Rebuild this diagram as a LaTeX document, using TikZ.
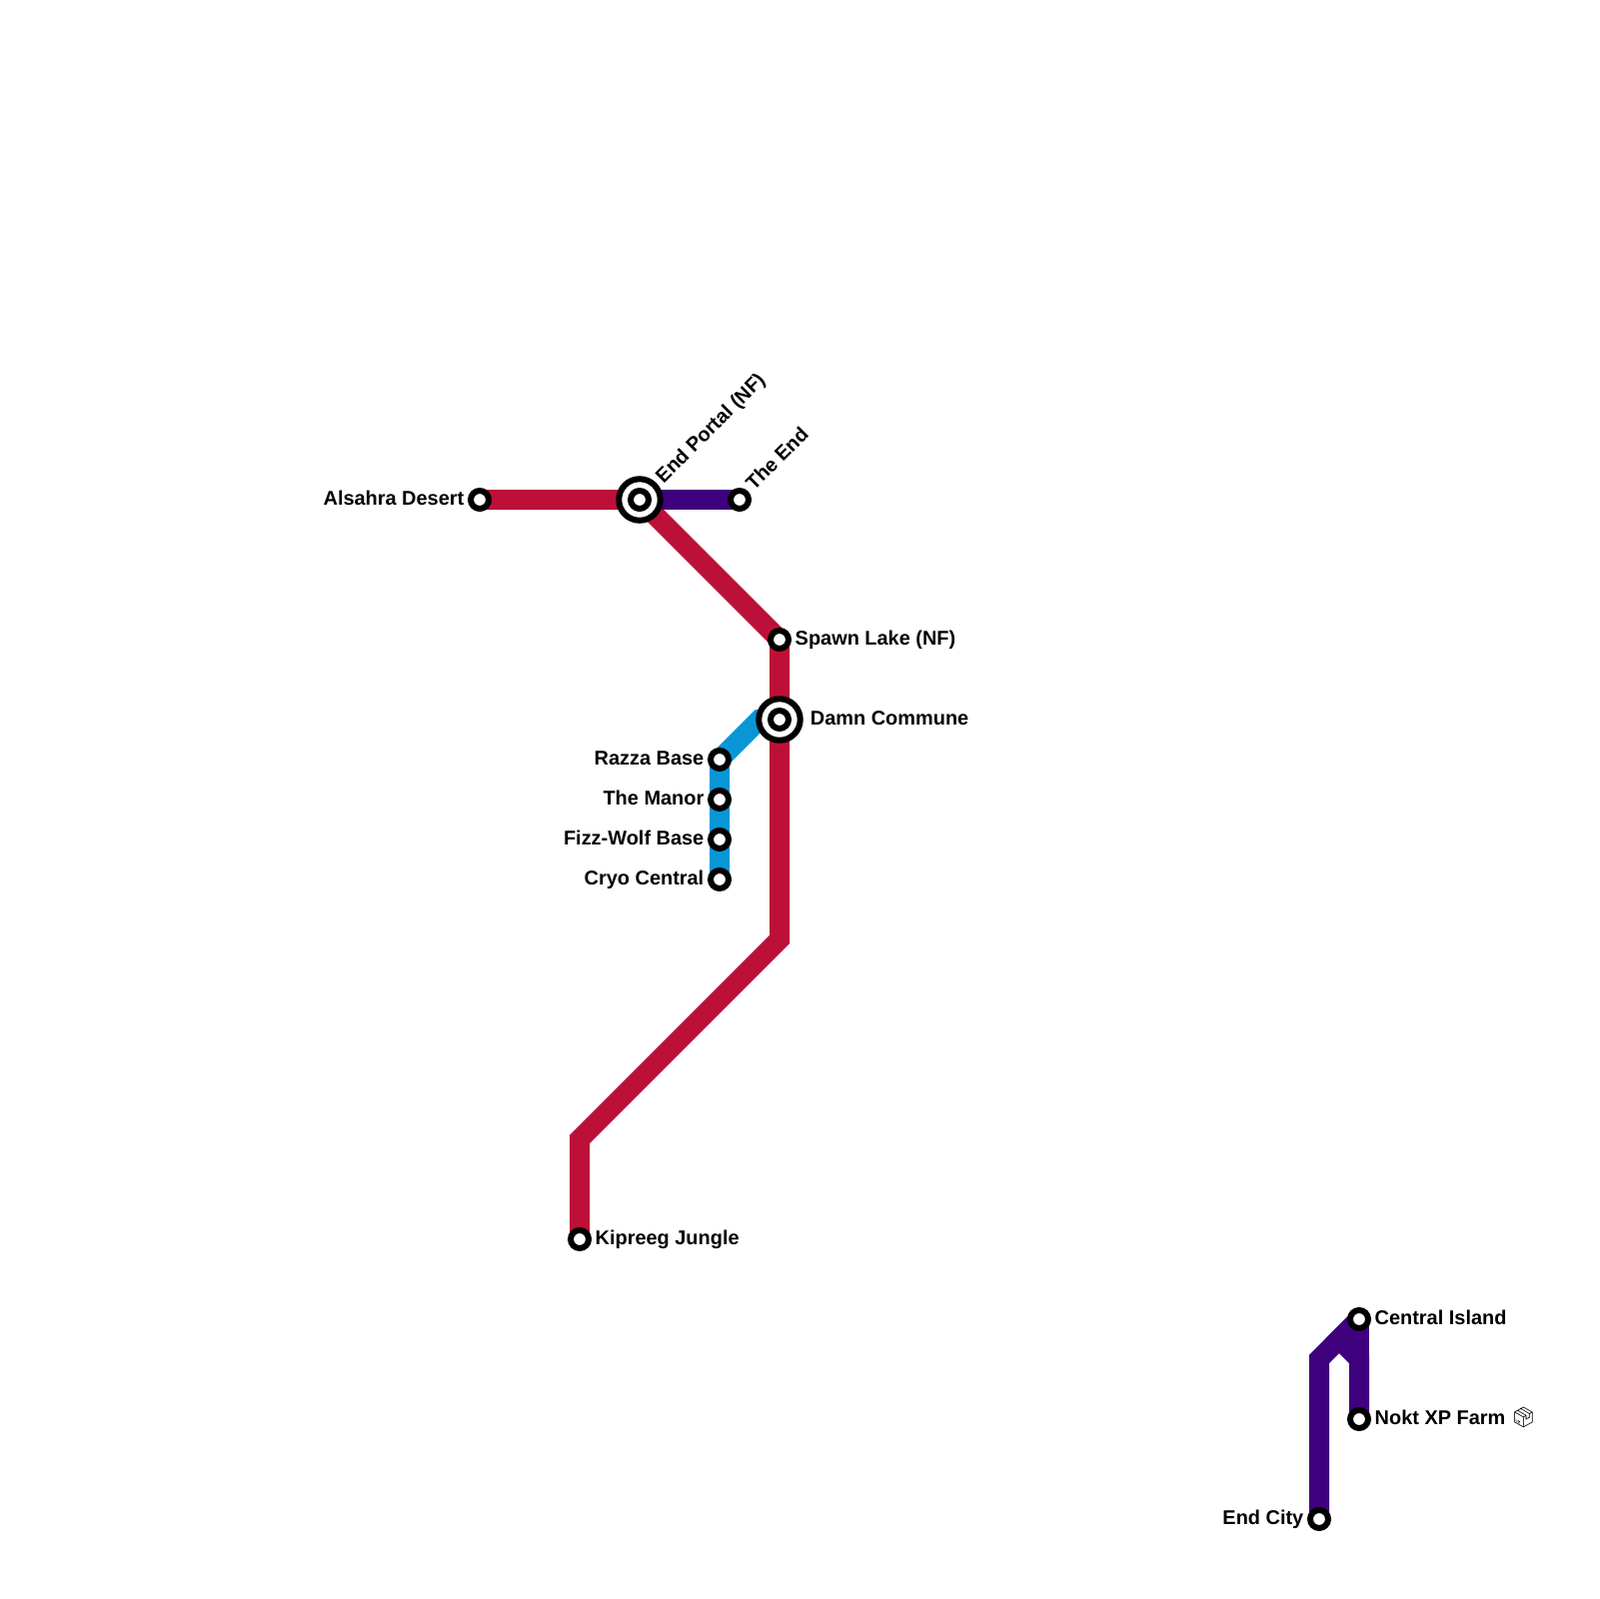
\documentclass[tikz,border=0pt]{standalone}
\usepackage{fontspec}
\setmainfont{Liberation Sans}
\newfontfamily\emojifont{Noto Emoji}
\usetikzlibrary{positioning,backgrounds}
\definecolor{linea1}{HTML}{BD1038}
\definecolor{linea2}{HTML}{0896D7}
\definecolor{linea3}{HTML}{3F007D}
\tikzset{
  mappa/.style={
    x=0.1mm,y=-0.1mm,
    node distance=0.3mm,
    every node/.style={inner sep=0pt,font=\fontsize{5.67pt}{6.5pt}\selectfont\bfseries}
  },
  tratta/.style={line width=2mm,line join=miter},
  stazione/.style={circle,draw=black,fill=white,line width=0.6mm,minimum size=1.8mm},
  scambio/.style={circle,draw=black,fill=white,line width=0.6mm,minimum size=4.15mm},
  nome/.style={text height=1.5mm,text depth=0.4mm},
  nomeobliquo/.style={rotate=45,anchor=west}
}
\begin{document}
\begin{tikzpicture}[mappa]
\useasboundingbox (0,0) rectangle (1600,1600);
% punti di svolta
\coordinate (svoltaA) at (780,940);
\coordinate (svoltaB) at (580,1140);
\coordinate (svoltaC) at (760,720);
\coordinate (svoltaD) at (1320,1360);
\coordinate (svoltaE) at (1340,1340);
\coordinate (svoltaF) at (1360,1360);
% stazioni
\node[stazione] (alsahra) at (480,500) {};
\node[scambio] (portale) at (640,500) {};
\node[stazione] (portalec) at (640,500) {};
\node[stazione] (fine) at (740,500) {};
\node[stazione] (lago) at (780,640) {};
\node[scambio] (comune) at (780,720) {};
\node[stazione] (comunec) at (780,720) {};
\node[stazione] (razza) at (720,760) {};
\node[stazione] (manor) at (720,800) {};
\node[stazione] (fizz) at (720,840) {};
\node[stazione] (cryo) at (720,880) {};
\node[stazione] (kipreeg) at (580,1240) {};
\node[stazione] (isola) at (1360,1320) {};
\node[stazione] (nokt) at (1360,1420) {};
\node[stazione] (citta) at (1320,1520) {};
% nomi
\node[nome,left=of alsahra] (alsahral) {Alsahra Desert};
\node[nome,right=of lago] (lagol) {Spawn Lake (NF)};
\node[nome,right=0.65mm of comune] (comunel) {Damn Commune};
\node[nome,left=of razza] (razzal) {Razza Base};
\node[nome,left=of manor] (manorl) {The Manor};
\node[nome,left=of fizz] (fizzl) {Fizz-Wolf Base};
\node[nome,left=of cryo] (cryol) {Cryo Central};
\node[nome,right=of kipreeg] (kipreegl) {Kipreeg Jungle};
\node[nome,right=of isola] (isolal) {Central Island};
\node[nome,right=of nokt] (noktl) {Nokt XP Farm {\emojifont 📦}};
\node[nome,left=of citta] (cittal) {End City};
\node[nomeobliquo] (portalel) at (660,481) {End Portal (NF)};
\node[nomeobliquo] (finel) at (749,487) {The End};
% linee
\begin{scope}[on background layer]
\draw[tratta,linea1] (alsahra.center) -- (portale.center) -- (lago.center) -- (comune.center) -- (svoltaA) -- (svoltaB) -- (kipreeg.center);
\draw[tratta,linea2] (comune.center) -- (svoltaC) -- (razza.center) -- (manor.center) -- (fizz.center) -- (cryo.center);
\draw[tratta,linea3] (portale.center) -- (fine.center);
\draw[tratta,linea3] (citta.center) -- (svoltaD) -- (isola.center);
\draw[tratta,linea3] (isola.center) -- (nokt.center);
\draw[tratta,linea3] (isola.center) -- (svoltaE) -- (svoltaF) -- (nokt.center);
\end{scope}
\end{tikzpicture}
\end{document}
